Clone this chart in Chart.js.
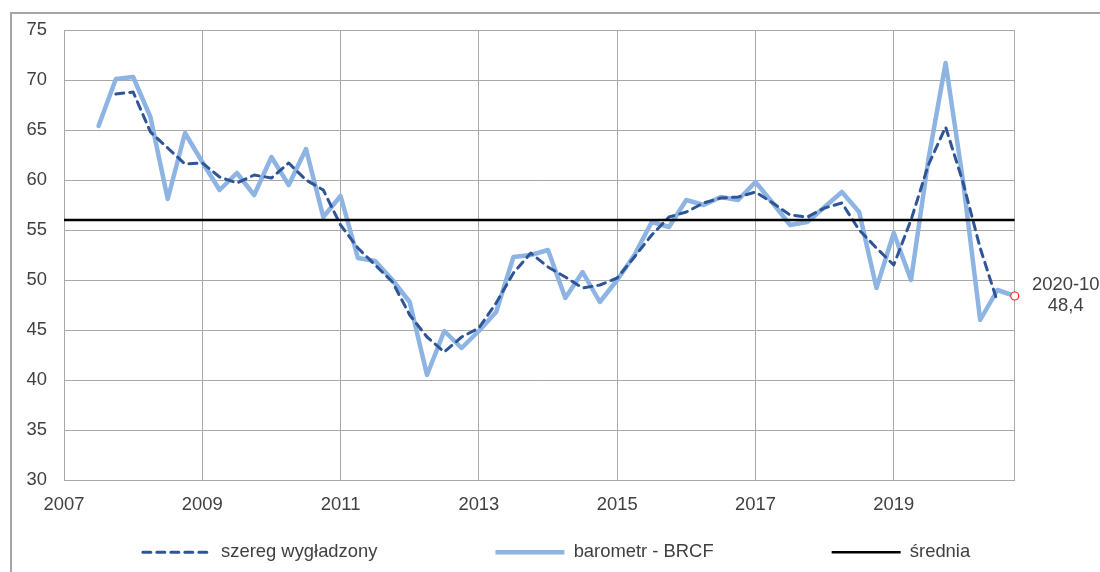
<!DOCTYPE html>
<html>
<head>
<meta charset="utf-8">
<script src="https://cdn.jsdelivr.net/npm/chart.js@4.4.1/dist/chart.umd.min.js"></script>
<style>
  html, body { margin: 0; padding: 0; background: #ffffff; }
  #wrap { position: relative; width: 1100px; height: 572px; overflow: hidden; }
  #frame { position: absolute; left: 10px; top: 12px; width: 1200px; height: 700px;
           border-left: 2px solid #a6a6a6; border-top: 2px solid #a6a6a6; }
  canvas { position: absolute; left: 0; top: 0; }
</style>
</head>
<body>
<div id="wrap">
  <div id="frame"></div>
  <canvas id="c" width="1100" height="572"></canvas>
</div>
<script>
// ---- data (quarterly readings) ----
const quarters = [
  '2007-07','2007-10',
  '2008-01','2008-04','2008-07','2008-10',
  '2009-01','2009-04','2009-07','2009-10',
  '2010-01','2010-04','2010-07','2010-10',
  '2011-01','2011-04','2011-07','2011-10',
  '2012-01','2012-04','2012-07','2012-10',
  '2013-01','2013-04','2013-07','2013-10',
  '2014-01','2014-04','2014-07','2014-10',
  '2015-01','2015-04','2015-07','2015-10',
  '2016-01','2016-04','2016-07','2016-10',
  '2017-01','2017-04','2017-07','2017-10',
  '2018-01','2018-04','2018-07','2018-10',
  '2019-01','2019-04','2019-07','2019-10',
  '2020-01','2020-04','2020-07','2020-10'
];
const barometer = [
  65.4, 70.1,
  70.3, 66.3, 58.1, 64.7,
  61.8, 59.0, 60.7, 58.5,
  62.3, 59.5, 63.1, 56.3,
  58.4, 52.2, 51.9, 50.0,
  47.8, 40.5, 44.9, 43.2,
  44.9, 46.8, 52.3, 52.5,
  53.0, 48.2, 50.8, 47.8,
  50.0, 52.5, 55.8, 55.3,
  58.0, 57.5, 58.3, 58.0,
  59.8, 57.7, 55.5, 55.8,
  57.3, 58.8, 56.8, 49.2,
  54.7, 50.0, 62.0, 71.7,
  60.0, 46.0, 49.0, 48.4
];
const smoothed = [
  null, 68.6,
  68.8, 64.8, 63.2, 61.6,
  61.7, 60.3, 59.7, 60.5,
  60.2, 61.7, 60.0, 59.0,
  55.5, 53.2, 51.5, 49.8,
  46.5, 44.3, 42.8, 44.3,
  45.2, 47.7, 50.7, 52.7,
  51.3, 50.3, 49.2, 49.5,
  50.2, 52.3, 54.5, 56.3,
  56.8, 57.7, 58.2, 58.3,
  58.8, 57.7, 56.5, 56.3,
  57.2, 57.7, 55.0, 53.2,
  51.5, 56.0, 61.5, 65.3,
  59.8, 53.2, 47.8, null
];
const meanValue = [56.0];
const seriesNames = ['szereg wygładzony', 'barometr - BRCF', 'średnia'];
const xTickLabels = ['2007', '2009', '2011', '2013', '2015', '2017', '2019'];
const xAxisStart = '2007-01';
const xAxisEnd = '2020-10';
const yTickValues = [30, 35, 40, 45, 50, 55, 60, 65, 70, 75];

// ---- helpers ----
const toYear = s => { const [y, m] = s.split('-').map(Number); return y + (m - 1) / 12; };
const xs = quarters.map(toYear);
const xMin = toYear(xAxisStart), xMax = toYear(xAxisEnd);
const lastIdx = barometer.length - 1;

const FONT = '"Liberation Sans", Arial, sans-serif';
const FS = 18.4;
const TXT = '#404040';
const GRID = '#a8a8a8';
const LEG_PAD = 118;

Chart.defaults.font.family = FONT;
Chart.defaults.font.size = FS;
Chart.defaults.color = TXT;

const legendFix = {
  id: 'legendFix',
  afterInit(chart) {
    const lg = chart.legend;
    if (!lg) return;
    const proto = Object.getPrototypeOf(lg);
    lg.fit = function () { proto.fit.call(this); if (this.isHorizontal()) this.height = 38; };
    lg.draw = function (a) {
      const t = this.top;
      this.top = t + 10.5 - LEG_PAD;
      proto.draw.call(this, a);
      this.top = t;
    };
  }
};

const lastLabel = {
  id: 'lastLabel',
  afterDatasetsDraw(chart) {
    const meta = chart.getDatasetMeta(1);
    const pt = meta.data[lastIdx];
    if (!pt) return;
    const ctx = chart.ctx;
    ctx.save();
    ctx.font = FS + 'px ' + FONT;
    ctx.fillStyle = TXT;
    ctx.textAlign = 'center';
    ctx.textBaseline = 'middle';
    ctx.fillText(quarters[lastIdx], pt.x + 51, pt.y - 11);
    ctx.fillText(String(barometer[lastIdx].toFixed(1)).replace('.', ','), pt.x + 51, pt.y + 10);
    ctx.restore();
  }
};

new Chart(document.getElementById('c'), {
  type: 'line',
  data: {
    datasets: [
      {
        label: seriesNames[0],
        data: xs.map((x, i) => ({ x, y: smoothed[i] })),
        borderColor: '#2f5597',
        borderWidth: 3,
        borderDash: [8, 6],
        borderCapStyle: 'round',
        borderJoinStyle: 'round',
        pointRadius: 0,
        tension: 0,
        order: 1
      },
      {
        label: seriesNames[1],
        data: xs.map((x, i) => ({ x, y: barometer[i] })),
        borderColor: '#8db4e2',
        borderWidth: 4.5,
        borderJoinStyle: 'round',
        borderCapStyle: 'round',
        pointRadius: ctx => ctx.dataIndex === lastIdx ? 4 : 0,
        pointBorderColor: '#ff2020',
        pointBackgroundColor: '#ffffff',
        pointBorderWidth: 1.2,
        tension: 0,
        clip: false,
        order: 2
      },
      {
        label: seriesNames[2],
        data: [{ x: xMin, y: meanValue[0] }, { x: xMax, y: meanValue[0] }],
        borderColor: '#000000',
        borderWidth: 2.5,
        pointRadius: 0,
        order: 0
      }
    ]
  },
  options: {
    responsive: false,
    animation: false,
    devicePixelRatio: 1,
    layout: { padding: { left: 13, right: 0, top: 30, bottom: 1.5 } },
    plugins: {
      tooltip: { enabled: false },
      legend: {
        position: 'bottom',
        labels: {
          usePointStyle: true,
          pointStyle: 'line',
          pointStyleWidth: 69,
          padding: LEG_PAD,
          color: TXT,
          font: { size: FS, family: FONT },
          generateLabels: chart => chart.data.datasets.map((ds, i) => ({
            text: ds.label,
            strokeStyle: ds.borderColor,
            fillStyle: ds.borderColor,
            fontColor: TXT,
            lineWidth: ds.borderWidth,
            lineDash: ds.borderDash || [],
            lineCap: ds.borderDash ? 'round' : 'butt',
            pointStyle: 'line',
            hidden: false,
            datasetIndex: i
          }))
        }
      }
    },
    scales: {
      x: {
        type: 'linear',
        min: xMin,
        max: xMax,
        offset: false,
        afterBuildTicks: s => {
          s.ticks = xTickLabels.map(t => ({ value: Number(t) })).concat([{ value: xMax }]);
        },
        afterFit: s => { s.height = 52.5; },
        ticks: {
          autoSkip: false,
          maxRotation: 0,
          padding: 14,
          color: TXT,
          font: { size: FS },
          callback: v => xTickLabels.includes(String(v)) ? String(v) : ''
        },
        grid: { color: GRID, lineWidth: 1, drawTicks: false },
        border: { display: true, color: GRID, width: 1 }
      },
      y: {
        type: 'linear',
        min: yTickValues[0],
        max: yTickValues[yTickValues.length - 1],
        afterBuildTicks: s => { s.ticks = yTickValues.map(v => ({ value: v })); },
        afterFit: s => { s.width = 51; },
        ticks: { padding: 17, color: TXT, font: { size: FS }, callback: v => String(v) },
        grid: { color: GRID, lineWidth: 1, drawTicks: false },
        border: { display: true, color: GRID, width: 1 }
      },
      yR: {
        type: 'linear',
        position: 'right',
        display: true,
        ticks: { display: false },
        grid: { display: false, drawTicks: false },
        border: { display: false },
        afterFit: s => { s.width = 85.25; }
      }
    }
  },
  plugins: [legendFix, lastLabel]
});
</script>
</body>
</html>
